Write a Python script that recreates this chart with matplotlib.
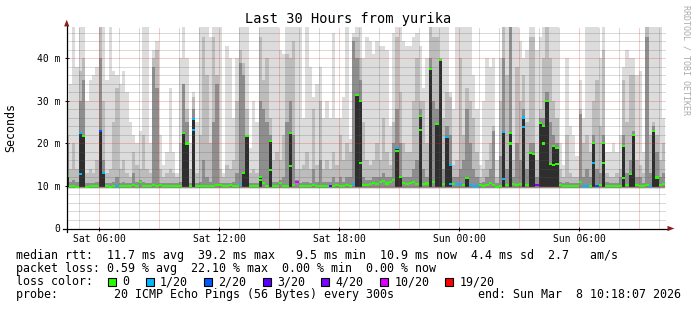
import numpy as np
import matplotlib
matplotlib.use("Agg")
import matplotlib.pyplot as plt
from matplotlib.patches import Polygon, Rectangle

# ---------------- data (10-minute bins, hours since Sat 00:00) ----------------
t0 = 4.30          # Sat 04:18
step = 1.0 / 6.0   # 10 minutes
ping_floor = 9.4   # lowest ping of the smoke (ms)

smoke_max = [30, 34, 50, 38, 50, 50, 30, 35, 36, 38, 50, 50, 35, 50, 37, 36, 34, 37, 32, 25,
             22, 20, 23, 50, 50, 20, 42, 44, 22, 15,
             18, 33, 18, 13, 40, 50, 40, 20, 32, 25, 50, 50, 50, 45, 50, 50, 50, 13, 43, 40,
             26, 40, 50, 50, 50, 19, 30, 25, 50, 50,
             50, 50, 50, 50, 42, 41, 50, 50, 50, 50, 50, 26, 50, 38, 31, 34, 38, 26, 30, 26,
             46, 26, 26, 31, 50, 21, 46, 50, 50, 40,
             45, 44, 41, 44, 43, 43, 42, 24, 46, 50, 50, 44, 43, 43, 45, 46, 43, 33, 40, 50,
             50, 50, 50, 50, 50, 32, 28, 50, 50, 50,
             50, 50, 36, 28, 15, 30, 40, 38, 40, 16, 40, 50, 50, 50, 50, 50, 44, 40, 42, 50,
             50, 42, 45, 50, 50, 50, 50, 50, 20, 15,
             40, 24, 22, 17, 35, 26, 50, 50, 50, 50, 40, 50, 18, 18, 20, 18, 22, 38, 42, 40,
             40, 36, 37, 18, 50, 50, 50, 50, 50, 26]

smoke_mid = [22, 14, 20, 14, 37, 40, 13, 14, 13, 16, 50, 30, 13, 14, 25, 33, 14, 16, 13, 12,
             18, 15, 14, 22, 14, 13, 40, 42, 14, 12,
             13, 14, 13, 12, 20, 34, 28, 14, 31, 13, 22, 45, 36, 20, 45, 36, 14, 12, 15, 14,
             16, 30, 42, 39, 28, 13, 14, 13, 45, 35,
             40, 26, 16, 18, 16, 22, 41, 40, 44, 14, 14, 15, 18, 14, 28, 15, 30, 14, 16, 14,
             18, 15, 22, 16, 20, 18, 45, 45, 40, 25,
             16, 15, 16, 20, 16, 26, 18, 15, 25, 45, 32, 20, 18, 18, 30, 40, 30, 30, 20, 48,
             45, 45, 40, 26, 32, 31, 15, 16, 40, 22,
             33, 30, 26, 18, 12, 14, 16, 20, 24, 12, 30, 50, 36, 50, 16, 38, 30, 36, 25, 45,
             45, 16, 28, 40, 48, 40, 30, 26, 14, 12,
             22, 13, 12, 12, 28, 20, 22, 18, 30, 35, 24, 42, 13, 12, 12, 13, 14, 35, 25, 36,
             36, 16, 15, 13, 48, 22, 25, 22, 16, 20]

smoke_dark = [20, 11, 11.5, 11, 30, 35, 10.8, 10.8, 10.8, 11, 40, 16, 10.8, 10.8, 11, 12, 10.8,
              11, 10.8, 10.8, 13, 11, 11.5, 11, 10.8, 10.8, 38, 33, 10.8, 10.8,
              10.8, 10.8, 10.8, 10.8, 11, 34, 25, 10.8, 28, 10.8, 11, 16, 12, 11, 25, 34, 10.8,
              10.8, 10.8, 10.8, 11, 13, 39, 36, 22, 10.8, 10.8, 10.8, 30, 28,
              25, 22, 11, 11, 11.5, 12, 25, 30, 22, 11.5, 10.8, 11, 11, 10.8, 14, 11, 16, 11, 11,
              11, 12, 11, 12, 11, 12, 12, 44, 40, 35, 12,
              11.5, 11.5, 12, 12, 12, 13, 12, 12, 20, 28, 20, 12, 12, 12, 14, 16, 28, 14, 12, 40,
              30, 28, 39.6, 14, 24, 22, 12, 12, 14, 16,
              28, 20, 14, 12, 10.8, 11, 12, 14, 23, 10.8, 17, 40, 14, 48, 12, 20, 16, 28, 14, 20,
              20, 12, 26, 26, 32, 25, 22, 20, 11, 10.8,
              11, 10.8, 10.8, 10.8, 27, 12, 14, 12, 22, 14, 13, 22, 11, 10.8, 10.8, 10.8, 12, 22,
              13, 16, 23, 12, 12, 10.8, 45, 13, 24, 18, 12, 13]

median = [12.4, 10.0, 9.9, 9.8, 22.5, 21.7, 9.8, 9.9, 10.0, 10.0, 22.9, 13.1, 9.9, 9.8, 10.0,
          10.1, 9.9, 10.0, 10.0, 10.1, 10.2, 10.0, 10.9, 10.0, 9.9, 10.1, 10.2, 10.0, 10.2, 10.1,
          10.0, 10.0, 9.9, 10.1, 10.0, 22.4, 20.0, 10.0, 25.7, 10.0, 10.0, 10.1, 10.0, 10.1, 10.0,
          10.3, 10.2, 10.0, 10.1, 10.2, 10.0, 10.1, 10.4, 13.0, 21.7, 10.0, 10.0, 9.9, 12.2, 10.8,
          10.0, 20.6, 10.1, 10.0, 10.8, 10.1, 10.0, 22.5, 10.2, 11.0, 10.0, 9.9, 10.1, 10.0, 10.2,
          10.0, 10.0, 10.1, 10.0, 10.1, 10.0, 10.2, 10.1, 10.0, 10.3, 10.1, 10.4, 31.4, 30.0, 10.2,
          10.3, 10.5, 10.8, 10.5, 11.0, 11.2, 10.6, 11.0, 11.5, 19.0, 12.2, 10.8, 10.5, 10.8, 11.0,
          10.5, 26.5, 10.4, 10.6, 37.6, 11.0, 24.5, 39.6, 10.4, 21.6, 15.0, 10.5, 10.4, 10.5, 10.3,
          11.8, 10.2, 10.1, 10.0, 10.2, 10.0, 10.3, 10.8, 10.3, 9.8, 10.1, 22.8, 10.2, 22.4, 10.4,
          10.2, 10.4, 26.1, 10.3, 17.8, 17.6, 10.2, 24.8, 24.1, 29.9, 15.2, 19.4, 19.0, 10.2, 10.0,
          10.0, 10.0, 9.9, 10.0, 10.9, 10.0, 10.0, 10.1, 20.2, 10.0, 10.2, 20.2, 10.1, 10.0, 10.0,
          9.9, 10.1, 19.4, 10.2, 12.9, 21.9, 10.2, 10.1, 10.0, 10.2, 10.1, 22.9, 12.0, 10.3, 10.4]

loss = [0, 0, 0, 0, 1, 0, 0, 0, 0, 0, 2, 1, 0, 0, 0, 1, 0, 0, 0, 0, 0, 0, 0, 0, 0, 0, 0, 0, 0, 0,
        0, 0, 0, 0, 0, 0, 0, 0, 1, 0, 0, 0, 0, 0, 0, 0, 0, 0, 0, 0, 0, 0, 1, 0, 0, 0, 0, 0, 0, 0,
        0, 0, 0, 0, 0, 0, 0, 0, 0, 5, 0, 0, 0, 0, 0, 0, 0, 0, 0, 3, 0, 0, 0, 0, 0, 0, 1, 0, 0, 0,
        0, 0, 0, 0, 0, 0, 0, 0, 0, 1, 0, 0, 0, 0, 0, 0, 0, 0, 0, 0, 0, 0, 0, 0, 1, 1, 0, 1, 1, 0,
        0, 1, 1, 1, 0, 0, 0, 0, 0, 0, 0, 1, 0, 0, 0, 0, 0, 1, 0, 0, 0, 4, 0, 0, 0, 0, 0, 0, 0, 0,
        0, 0, 0, 0, 0, 1, 1, 0, 0, 2, 0, 0, 0, 0, 0, 0, 0, 0, 0, 0, 0, 0, 0, 0, 0, 1, 0, 0, 0, 0]

# second median samples falling in the same 10-min bin
extra_bin = [4, 38, 58, 61, 67, 88, 99, 106, 115, 131, 133, 137, 143, 146, 147, 158, 161, 167]
extra_ms = [12.8, 23.2, 11.4, 13.8, 14.8, 15.5, 18.2, 23.2, 10.4, 11.7, 20.0, 23.9, 20.0, 15.0,
            15.2, 15.4, 15.4, 11.9]
extra_loss = [1, 1, 0, 0, 0, 0, 0, 0, 1, 1, 0, 1, 0, 0, 0, 1, 0, 0]

loss_labels = ["0", "1/20", "2/20", "3/20", "4/20", "10/20", "19/20"]
loss_colors = ["#26ff00", "#00b8ff", "#0059ff", "#5e00ff", "#7e00ff", "#dd00ff", "#ff0000"]

xtick_pos = [6, 12, 18, 24, 30]
xtick_labels = ["Sat 06:00", "Sat 12:00", "Sat 18:00", "Sun 00:00", "Sun 06:00"]
ytick_pos = [0, 10, 20, 30, 40]
ytick_labels = ["0", "10 m", "20 m", "30 m", "40 m"]

title = "Last 30 Hours from yurika"
line_rtt = "median rtt:  11.7 ms avg  39.2 ms max   9.5 ms min  10.9 ms now  4.4 ms sd  2.7   am/s"
line_loss = "packet loss: 0.59 % avg  22.10 % max  0.00 % min  0.00 % now"
line_probe = "probe:        20 ICMP Echo Pings (56 Bytes) every 300s"
line_end = "end: Sun Mar  8 10:18:07 2026"

# ---------------- drawing ----------------
plt.rcParams["font.family"] = ["DejaVu Sans Mono"]
W, H = 697, 310
X0, X1 = 66.7, 665.7
Y0, Y1 = 228.5, 27.0
fig = plt.figure(figsize=(W / 100, H / 100), dpi=100)
fig.patch.set_facecolor("white")
ax = fig.add_axes([X0 / W, 1 - Y0 / H, (X1 - X0) / W, (Y0 - Y1) / H])
ax.set_xlim(4.37, 34.32)
ax.set_ylim(0, 47.4)
for s in ax.spines.values():
    s.set_visible(False)

n = len(median)
x = t0 + np.arange(n) * step
smax = np.array(smoke_max, float)
smid = np.array(smoke_mid, float)
sdark = np.array(smoke_dark, float)
med = np.array(median, float)

kw = dict(width=step, align="edge", linewidth=0, antialiased=False)
ax.bar(x, smax - ping_floor, bottom=ping_floor, color="#dcdcdc", zorder=1, **kw)
ax.bar(x, smid - ping_floor - 0.1, bottom=ping_floor + 0.1, color="#bcbcbc", zorder=2, **kw)
ax.bar(x, sdark - ping_floor - 0.2, bottom=ping_floor + 0.2, color="#8e8e8e", zorder=3, **kw)
core = med > 11.5
ax.bar(x[core], med[core] - 9.8, bottom=9.8, color="#2e2e2e", zorder=4, **kw)

# minor / major grid (drawn over the smoke like rrdtool)
gkw = dict(linestyle=(0, (1, 1)), linewidth=0.72, zorder=5)
for h in range(5, 35):
    if h % 3:
        ax.axvline(h, color="#5a5a5a", alpha=0.45, **gkw)
    else:
        ax.axvline(h, color="#e03030", alpha=0.5, **gkw)
for v in range(2, 47, 2):
    if v % 10:
        ax.axhline(v, color="#5a5a5a", alpha=0.45, **gkw)
    else:
        ax.axhline(v, color="#e03030", alpha=0.5, **gkw)

# median marks coloured by loss
mcol = [loss_colors[k] for k in loss]
ax.bar(x, 0.5, bottom=med - 0.25, color=mcol, zorder=6, **kw)
ex = t0 + np.array(extra_bin) * step
ecol = [loss_colors[k] for k in extra_loss]
ax.bar(ex, 0.5, bottom=np.array(extra_ms) - 0.25, color=ecol, zorder=6, **kw)

# axes lines and arrows
ax.plot([0, 0], [-3 / 201.5, 1.005], transform=ax.transAxes, clip_on=False,
        color="black", lw=0.9, zorder=7)
ax.plot([-4 / 599, 1.004], [0, 0], transform=ax.transAxes, clip_on=False,
        color="black", lw=0.9, zorder=7)
arrow_c = "#8c1c1c"
ax.add_patch(Polygon([[-2.6 / 599, 1.003], [2.6 / 599, 1.003], [0, 1.036]], closed=True,
                     transform=ax.transAxes, clip_on=False, color=arrow_c, zorder=8, lw=0))
ax.add_patch(Polygon([[1.003, -2.6 / 201.5], [1.003, 2.6 / 201.5], [1.0145, 0]], closed=True,
                     transform=ax.transAxes, clip_on=False, color=arrow_c, zorder=8, lw=0))

ax.set_xticks(xtick_pos, xtick_labels)
ax.set_yticks(ytick_pos, ytick_labels)
ax.tick_params(axis="both", labelsize=7, length=3, width=0.7, direction="inout", color="black")
ax.tick_params(axis="x", pad=2.5)
ax.tick_params(axis="y", pad=3)

# texts
fig.text(348 / W, 1 - 19 / H, title, ha="center", va="center", fontsize=9.8)
fig.text(11 / W, 1 - 127 / H, "Seconds", rotation=90, ha="center", va="center", fontsize=8.4)
fig.text(686 / W, 1 - 5 / H, "RRDTOOL / TOBI OETIKER", rotation=270, ha="center", va="top",
         fontsize=6, color="#aaaaaa")

fs = 8.4
base = [258.5, 271.8, 285.1, 298.4]
fig.text(16 / W, 1 - base[0] / H, line_rtt, ha="left", va="baseline", fontsize=fs)
fig.text(16 / W, 1 - base[1] / H, line_loss, ha="left", va="baseline", fontsize=fs)
fig.text(16 / W, 1 - base[2] / H, "loss color:", ha="left", va="baseline", fontsize=fs)
fig.text(16 / W, 1 - base[3] / H, line_probe, ha="left", va="baseline", fontsize=fs)
fig.text(681 / W, 1 - base[3] / H, line_end, ha="right", va="baseline", fontsize=fs)

cw = 7.02
bx = 108.0
for lab, col in zip(loss_labels, loss_colors):
    fig.patches.append(Rectangle((bx / W, 1 - (base[2] + 0.5) / H), 8 / W, 8 / H,
                                 transform=fig.transFigure, facecolor=col,
                                 edgecolor="black", lw=0.8))
    tx = bx + 14.5
    fig.text(tx / W, 1 - base[2] / H, lab, ha="left", va="baseline", fontsize=fs)
    bx = tx + len(lab) * cw + 16

fig.savefig("out.png", dpi=100, facecolor="white")
